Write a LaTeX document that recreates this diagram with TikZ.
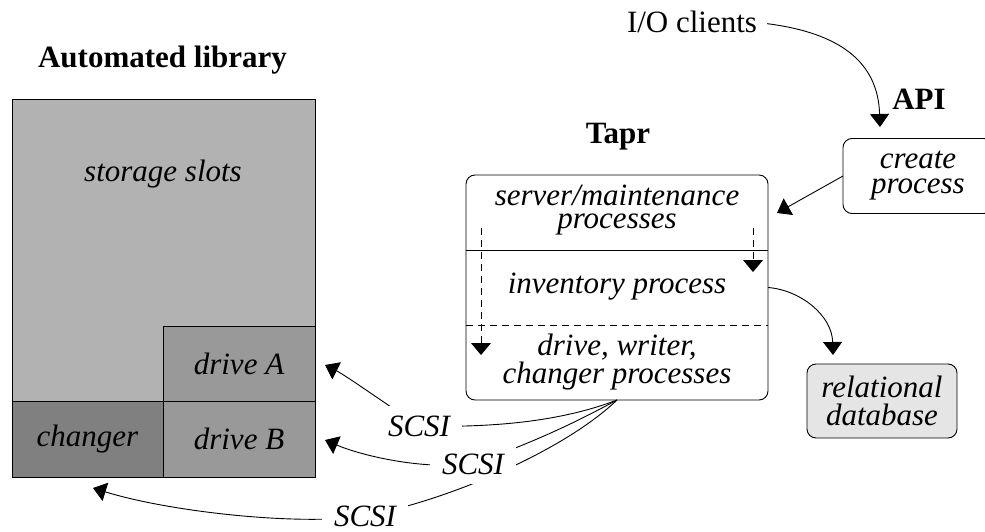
\documentclass[tikz,border=0pt]{standalone}
\usepackage{fontspec}
\setmainfont{Liberation Serif}
\usetikzlibrary{arrows.meta,backgrounds,calc}
\definecolor{slotgray}{gray}{0.70}
\definecolor{drivegray}{gray}{0.60}
\definecolor{changergray}{gray}{0.50}
\definecolor{dbgray}{gray}{0.90}
\begin{document}
\begin{tikzpicture}[x=1pt,y=-1pt,
  ln/.style={line width=0.9pt},
  arr/.style={ln,-{Triangle[length=13pt,width=19pt]}},
  itx/.style={font=\fontsize{31}{23}\selectfont\itshape, inner sep=0pt, align=center},
  rmx/.style={font=\fontsize{31}{23}\selectfont, inner sep=0pt},
  bfx/.style={font=\fontsize{31}{23}\selectfont\bfseries, inner sep=0pt},
  libbox/.style={draw, ln, outer sep=0pt, inner sep=0pt, font=\fontsize{31}{23}\selectfont\itshape},
  rbox/.style={draw, ln, rounded corners=9pt, outer sep=0pt, inner sep=0pt, align=center},
  scsi/.style={fill=white, inner xsep=12pt, inner ysep=10pt, font=\fontsize{31}{23}\selectfont\itshape},
  dline/.style={ln, dash pattern=on 7pt off 5pt}
]
\useasboundingbox (0,0) rectangle (985,532);

% automated library
\node[bfx, anchor=base] (libtitle) at (162.5,68) {Automated library};
\node[libbox, fill=slotgray, minimum width=303pt, minimum height=378pt] (lib) at (163.5,288) {};
\node[itx, anchor=base] (slots) at (163,181) {storage slots};
\node[libbox, fill=drivegray, minimum width=152pt, minimum height=75pt] (driveA) at (239,363.5) {drive A};
\node[libbox, fill=changergray, minimum width=151pt, minimum height=76pt] (changer) at (87.5,439) {changer};
\node[libbox, fill=drivegray, minimum width=152pt, minimum height=76pt] (driveB) at (239,439) {drive B};

% Tapr
\node[bfx, anchor=base] (taprtitle) at (618,143) {Tapr};
\node[rbox, minimum width=302pt, minimum height=225pt] (tapr) at (617,287.5) {};
\draw[ln] ($(tapr.north west)+(0,75)$) -- ($(tapr.north east)+(0,75)$);
\draw[dline] ($(tapr.north west)+(0,150)$) -- ($(tapr.north east)+(0,150)$);
\node[itx, anchor=base] (serv) at (617,228) {server/maintenance\\processes};
\node[itx, anchor=base] (inv) at (617,293) {inventory process};
\node[itx, anchor=base] (drv) at (617,383) {drive, writer,\\changer processes};
\coordinate (dl0) at (481,228);
\coordinate (dl1) at (481,355);
\coordinate (dr0) at (753,228);
\coordinate (dr1) at (753,272);
\draw[dline, -{Triangle[length=12pt,width=20pt]}] (dl0) -- (dl1);
\draw[dline, -{Triangle[length=12pt,width=20pt]}] (dr0) -- (dr1);

% API
\node[rmx, anchor=base] (io) at (692,33) {I/O clients};
\node[bfx, anchor=base] (api) at (919,110) {API};
\begin{scope}
\clip (0,0) rectangle (985,532);
\node[rbox, minimum width=150pt, minimum height=75pt, font=\fontsize{31}{25}\selectfont\itshape] (create) at (918,176) {create\\process};
\end{scope}
\coordinate (apitip) at (880,127);
\draw[arr, shorten <=10pt] (io.east) .. controls (840,33) and (878,62) .. (apitip);
\coordinate (taprin) at (777,213);
\draw[arr] (create.west) -- (taprin);

% database
\node[rbox, fill=dbgray, minimum width=150pt, minimum height=74pt, font=\fontsize{31}{28}\selectfont\itshape] (db) at (882,401) {relational\\database};
\coordinate (dbtip) at (833,355);
\draw[arr] (tapr.east) .. controls (800,290) and (832,315) .. (dbtip);

% SCSI links
\node[scsi] (s1) at (419,426) {SCSI};
\node[scsi] (s2) at (473,464) {SCSI};
\node[scsi] (s3) at (365,516) {SCSI};
\coordinate (tA) at (325,365);
\coordinate (tB) at (325,440);
\coordinate (tC) at (93,488);
\begin{pgfonlayer}{background}
\draw[arr] (tapr.south) .. controls (565,420) and (500,428) .. (s1.center) .. controls (395,410) and (345,375) .. (tA);
\draw[arr] (tapr.south) .. controls (580,420) and (540,440) .. (s2.center) .. controls (420,470) and (360,455) .. (tB);
\draw[arr] (tapr.south) .. controls (565,450) and (450,500) .. (s3.center) .. controls (300,526) and (170,512) .. (tC);
\end{pgfonlayer}
\end{tikzpicture}
\end{document}
